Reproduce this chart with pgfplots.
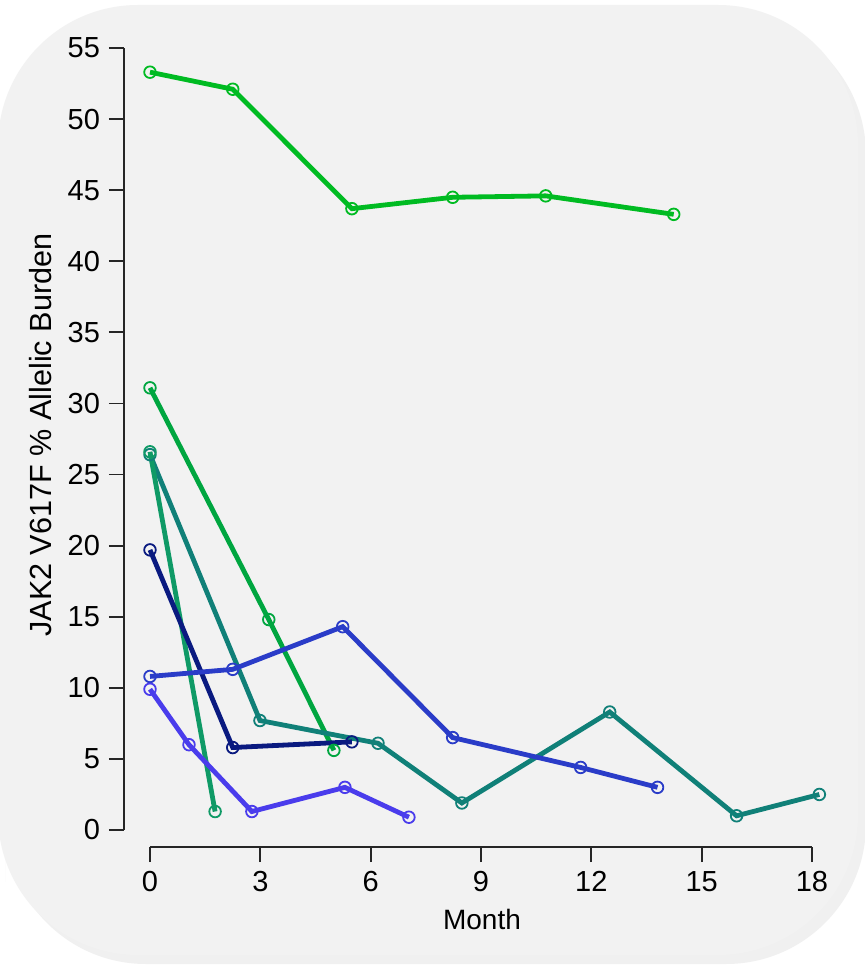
\documentclass[border=0pt]{standalone}
\usepackage{pgfplots}
\pgfplotsset{compat=1.18}
\usepackage{fontspec}
\setmainfont{Liberation Sans}
\definecolor{bg}{HTML}{F2F2F2}
\definecolor{cA}{HTML}{00BB22}
\definecolor{cB}{HTML}{00A640}
\definecolor{cC}{HTML}{0F9A66}
\definecolor{cD}{HTML}{108078}
\definecolor{cE}{HTML}{0A1A80}
\definecolor{cF}{HTML}{2A3CC8}
\definecolor{cG}{HTML}{4A3CEC}
\tikzset{ser/.style={line width=2.4pt, mark=o, mark size=2.9pt, mark options={line width=0.9pt, solid}}}
\begin{document}
\begin{tikzpicture}[x=0.5pt,y=0.5pt]
% page frame: image px -> (px-150, 830-py)
\fill[white] (-150,-136) rectangle (715,830);
\begin{scope}
\clip (-150,-136) rectangle (715,830);
\fill[black!6] (-144,-134) [rounded corners=70] -- (-144,815) -- (716,815) -- (716,-134) -- (-144,-134) -- cycle;
\fill[bg] (-152,-125) [rounded corners=70] -- (-152,825) -- (708,825) -- (708,-125) -- (-152,-125) -- cycle;
\end{scope}
\begin{axis}[
  at={(0,0)}, anchor=south west,
  scale only axis, width=331pt, height=391pt,
  xmin=0, xmax=18, ymin=0, ymax=55,
  clip=false,
  axis x line=bottom, axis y line=left,
  axis x line shift=8.5pt, axis y line shift=13pt,
  axis line style={-, line width=0.9pt, black!85},
  xtick={0,3,...,18}, ytick={0,5,...,55},
  tick align=outside, major tick length=7.5pt,
  tick style={line width=0.9pt, black!85},
  /pgf/number format/assume math mode=true,
  tick label style={font=\fontsize{14.5}{17}\selectfont},
  xticklabel style={yshift=-1pt},
  yticklabel style={xshift=-1pt},
  xlabel={Month}, ylabel={JAK2 V617F \% Allelic Burden},
  xlabel style={at={(axis description cs:0.5015,-0.115)}, anchor=center, font=\fontsize{14}{17}\selectfont},
  ylabel style={at={(axis description cs:-0.166,0.505)}, anchor=center, font=\fontsize{15.3}{18}\selectfont},
]
\addplot[cA, ser] coordinates {(0,53.3) (2.25,52.1) (5.49,43.7) (8.23,44.5) (10.76,44.6) (14.24,43.3)};
\addplot[cB, ser] coordinates {(0,31.1) (3.23,14.8) (5.0,5.6)};
\addplot[cD, ser] coordinates {(0,26.4) (2.99,7.7) (6.2,6.1) (8.48,1.9) (12.5,8.3) (15.95,1.0) (18.2,2.5)};
\addplot[cC, ser] coordinates {(0,26.6) (1.77,1.3)};
\addplot[cE, ser] coordinates {(0,19.7) (2.25,5.8) (5.49,6.2)};
\addplot[cF, ser] coordinates {(0,10.8) (2.25,11.3) (5.24,14.3) (8.23,6.5) (11.71,4.4) (13.8,3.0)};
\addplot[cG, ser] coordinates {(0,9.9) (1.06,6.0) (2.77,1.3) (5.3,3.0) (7.04,0.9)};
\end{axis}
\end{tikzpicture}
\end{document}
